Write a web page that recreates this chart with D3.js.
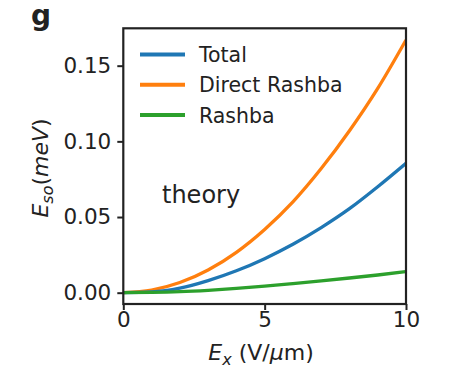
<!DOCTYPE html>
<html>
<head>
<meta charset="utf-8">
<script src="https://cdn.jsdelivr.net/npm/d3@7"></script>
<style>
  body { margin: 0; background: #fff; }
  text { font-family: "DejaVu Sans", sans-serif; fill: #222; }
</style>
</head>
<body>
<script>
// field values
var fieldX = [0, 1, 2, 3, 4, 5, 6, 7, 8, 9, 10];
var totalE = [0, 0.0005, 0.0030, 0.0080, 0.0145, 0.0225, 0.0320, 0.0430, 0.0555, 0.0700, 0.0855];
var directE = [0, 0.0017, 0.0067, 0.0150, 0.0267, 0.0418, 0.0600, 0.0820, 0.1070, 0.1350, 0.1670];
var rashbaE = [0, 0.0002, 0.0007, 0.0016, 0.0028, 0.0043, 0.0060, 0.0078, 0.0097, 0.0117, 0.0139];
var seriesNames = ["Total", "Direct Rashba", "Rashba"];
var seriesColors = ["#1f77b4", "#ff7f0e", "#2ca02c"];
var xTicks = [0, 5, 10];
var yTicks = [0, 0.05, 0.10, 0.15];

window.onload = function(){
    var svg = d3.select('body').append('svg')
        .attr('width', 451)
        .attr('height', 368);

    var left = 123.3, top = 28.3, w = 282.7, h = 275.7;

    var x = d3.scaleLinear().domain([0, 10]).range([left, left + w]);
    var y = d3.scaleLinear().domain([-0.00747, 0.1747]).range([top + h, top]);

    // panel letter
    svg.append('text')
        .attr('x', 31).attr('y', 25)
        .style('font-weight', 'bold')
        .style('font-size', '28px')
        .text('g');

    // lines, drawn green last so it sits on top near 0
    var series = [totalE, directE, rashbaE];
    var line = d3.line()
        .x(function(d, i){ return x(fieldX[i]); })
        .y(function(d){ return y(d); })
        .curve(d3.curveMonotoneX);

    svg.append('clipPath').attr('id', 'clip')
        .append('rect').attr('x', left).attr('y', top).attr('width', w).attr('height', h);

    svg.append('g').attr('clip-path', 'url(#clip)')
        .selectAll('path')
        .data([1, 0, 2])
        .enter().append('path')
        .attr('d', function(k){ return line(series[k]); })
        .attr('fill', 'none')
        .attr('stroke', function(k){ return seriesColors[k]; })
        .attr('stroke-width', 3.3);

    // axes
    var xAxis = svg.append('g')
        .attr('transform', 'translate(0,' + (top + h) + ')')
        .call(d3.axisBottom(x).tickValues(xTicks).tickFormat(d3.format('d')).tickSize(6).tickPadding(2));
    var yAxis = svg.append('g')
        .attr('transform', 'translate(' + left + ',0)')
        .call(d3.axisLeft(y).tickValues(yTicks).tickFormat(d3.format('.2f')).tickSize(6).tickPadding(6));

    [xAxis, yAxis].forEach(function(a){
        a.select('.domain').remove();
        a.selectAll('line').attr('stroke', '#222').attr('stroke-width', 2);
        a.selectAll('text').style('font-size', '21.5px').style('font-family', '"DejaVu Sans", sans-serif').attr('fill', '#222');
    });

    // frame
    svg.append('rect')
        .attr('x', left).attr('y', top).attr('width', w).attr('height', h)
        .attr('fill', 'none').attr('stroke', '#222').attr('stroke-width', 2.2);

    // legend
    var legend = svg.append('g').selectAll('g')
        .data(seriesNames)
        .enter().append('g')
        .attr('transform', function(d, i){ return 'translate(140,' + (54.5 + i * 30.3) + ')'; });
    legend.append('line')
        .attr('x1', 0).attr('x2', 45)
        .attr('stroke', function(d, i){ return seriesColors[i]; })
        .attr('stroke-width', 4);
    legend.append('text')
        .attr('x', 59).attr('y', 7.5)
        .style('font-size', '20.5px')
        .text(function(d){ return d; });

    // annotation
    svg.append('text')
        .attr('x', 162).attr('y', 203)
        .style('font-size', '24px')
        .attr('fill', '#262640')
        .text('theory');

    // axis titles
    var xl = svg.append('text')
        .attr('x', 261).attr('y', 360)
        .attr('text-anchor', 'middle')
        .style('font-size', '22px');
    xl.append('tspan').style('font-style', 'italic').text('E');
    xl.append('tspan').style('font-style', 'italic').style('font-size', '16px').attr('dy', 5).text('x');
    xl.append('tspan').attr('dy', -5).text(' (V/');
    xl.append('tspan').style('font-style', 'italic').text('μ');
    xl.append('tspan').text('m)');

    var yl = svg.append('text')
        .attr('transform', 'translate(48,168) rotate(-90)')
        .attr('text-anchor', 'middle')
        .style('font-size', '22px');
    yl.append('tspan').style('font-style', 'italic').text('E');
    yl.append('tspan').style('font-style', 'italic').style('font-size', '16px').attr('dy', 5).text('so');
    yl.append('tspan').attr('dy', -5).text('(');
    yl.append('tspan').style('font-style', 'italic').text('meV');
    yl.append('tspan').text(')');
}
</script>
</body>
</html>
